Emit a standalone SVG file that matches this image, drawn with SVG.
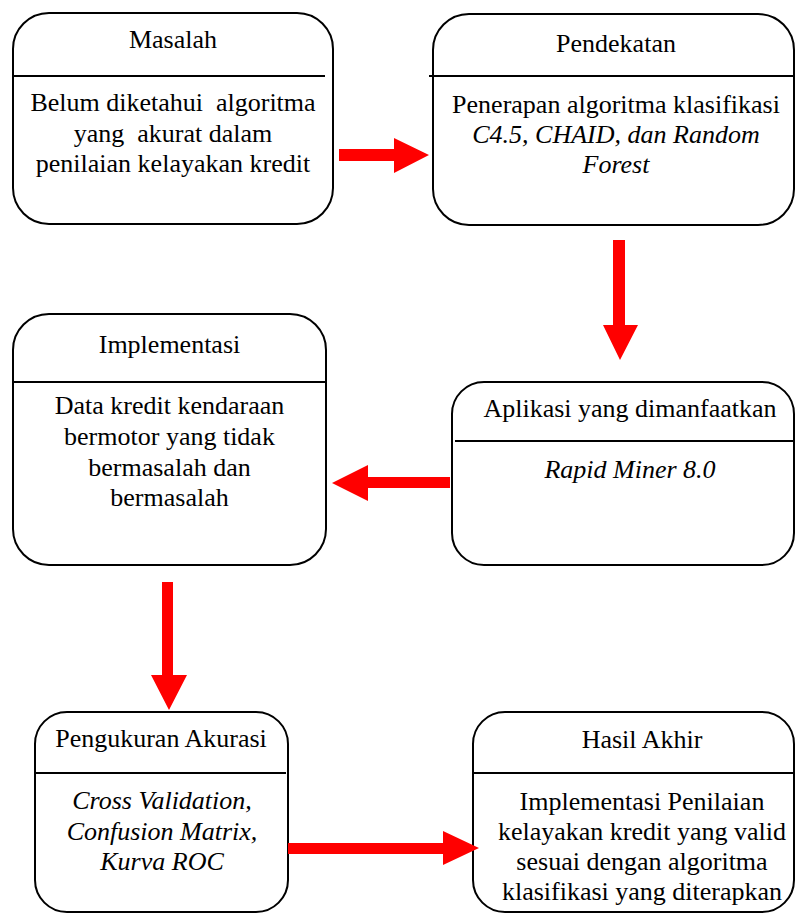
<svg xmlns="http://www.w3.org/2000/svg" width="795" height="913" viewBox="0 0 795 913">
<style>
.box{fill:#fff;stroke:#000;stroke-width:2}
.div{stroke:#000;stroke-width:2}
text{font-family:'Liberation Serif','Times New Roman','DejaVu Serif',serif;font-size:26px;fill:#000;text-anchor:middle}
.i{font-style:italic}
.arr{fill:#ff0000}
</style>
<rect width="795" height="913" fill="#fff"/>
<g id="node-masalah">
<rect class="box" x="13" y="13" width="320" height="211" rx="36" ry="36"/>
<line class="div" x1="13" y1="76" x2="325" y2="76"/>
<text x="173" y="48">Masalah</text>
<text x="173" y="111" xml:space="preserve">Belum diketahui  algoritma</text>
<text x="173" y="142" xml:space="preserve">yang  akurat dalam</text>
<text x="173" y="172">penilaian kelayakan kredit</text>
</g>
<g id="node-pendekatan">
<rect class="box" x="433" y="14" width="361" height="211" rx="36" ry="36"/>
<line class="div" x1="429" y1="76" x2="795" y2="76"/>
<text x="616" y="52">Pendekatan</text>
<text x="616" y="113">Penerapan algoritma klasifikasi</text>
<text class="i" x="616" y="143">C4.5, CHAID, dan Random</text>
<text class="i" x="616" y="173">Forest</text>
</g>
<g id="node-aplikasi">
<rect class="box" x="452" y="382" width="342" height="183" rx="32" ry="32"/>
<line class="div" x1="455" y1="441" x2="795" y2="441"/>
<text x="630" y="417">Aplikasi yang dimanfaatkan</text>
<text class="i" x="630" y="478">Rapid Miner 8.0</text>
</g>
<g id="node-implementasi">
<rect class="box" x="13" y="314" width="313" height="251" rx="36" ry="36"/>
<line class="div" x1="13" y1="382" x2="326" y2="382"/>
<text x="169.5" y="353">Implementasi</text>
<text x="169.5" y="414">Data kredit kendaraan</text>
<text x="169.5" y="445">bermotor yang tidak</text>
<text x="169.5" y="476">bermasalah dan</text>
<text x="169.5" y="506">bermasalah</text>
</g>
<g id="node-pengukuran">
<rect class="box" x="35" y="712" width="253" height="200" rx="32" ry="32"/>
<line class="div" x1="35" y1="773" x2="286" y2="773"/>
<text x="161" y="747">Pengukuran Akurasi</text>
<text class="i" x="162" y="809">Cross Validation,</text>
<text class="i" x="162" y="840">Confusion Matrix,</text>
<text class="i" x="162" y="870">Kurva ROC</text>
</g>
<g id="node-hasil">
<rect class="box" x="473" y="712" width="321" height="200" rx="32" ry="32"/>
<line class="div" x1="473" y1="773" x2="795" y2="773"/>
<text x="642" y="748">Hasil Akhir</text>
<text x="642" y="810">Implementasi Penilaian</text>
<text x="642" y="840">kelayakan kredit yang valid</text>
<text x="642" y="870">sesuai dengan algoritma</text>
<text x="642" y="900">klasifikasi yang diterapkan</text>
</g>
<g id="connectors">
<polygon class="arr" points="339,149 394,149 394,138 429,155 394,173 394,161 339,161"/>
<polygon class="arr" points="613,240 625,240 625,325 638,325 620,360 603,325 613,325"/>
<polygon class="arr" points="450,477 368,477 368,465 332,483 368,501 368,488 450,488"/>
<polygon class="arr" points="162,582 173,582 173,675 187,675 169,710 151,675 162,675"/>
<polygon class="arr" points="288,843 443,843 443,831 479,848 443,865 443,854 288,854"/>
</g>
</svg>
